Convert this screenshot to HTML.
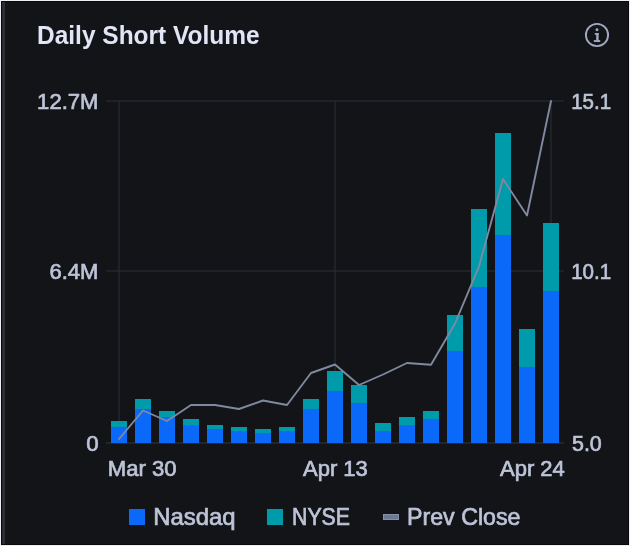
<!DOCTYPE html>
<html><head><meta charset="utf-8"><title>Daily Short Volume</title>
<style>
html,body{margin:0;padding:0;background:#131418;}
body{width:630px;height:546px;overflow:hidden;position:relative;font-family:"Liberation Sans",sans-serif;}
#frame{position:absolute;left:0;top:0;width:628px;height:544px;border:1px solid #efeded;box-sizing:content-box;}
#inner{position:absolute;left:1px;top:1px;width:626px;height:542px;border:1px solid #090a0f;background:#131418;}
#strip{position:absolute;left:2px;top:2px;width:3px;height:542px;background:linear-gradient(90deg,#1b1e27 0,#2c313d 1px,#2c313d 2px,#252934 3px);}
svg{position:absolute;left:0;top:0;}
text{font-family:"Liberation Sans",sans-serif;}
.ax{font-size:22.9px;fill:#bdc4d7;stroke:#bdc4d7;stroke-width:0.7px;}
.ttl{font-size:26.2px;font-weight:bold;fill:#e1e5f6;}
</style></head><body>
<div id="frame"></div><div id="inner"></div><div id="strip"></div>
<svg width="630" height="546" viewBox="0 0 630 546">
<text class="ttl" x="37" y="43.800" textLength="222.600" lengthAdjust="spacingAndGlyphs">Daily Short Volume</text>
<g fill="none" stroke="#a2a9c0">
<circle cx="597" cy="35" r="11.1" stroke-width="1.9"/>
</g>
<g fill="#a2a9c0">
<circle cx="597" cy="29.800" r="1.450"/>
<rect x="594.8" y="33" width="3.8" height="1.8"/>
<rect x="596.200" y="33" width="2.400" height="8"/>
<rect x="593.800" y="40.100" width="6.400" height="1.900"/>
</g>
<g stroke="#2a2e39" stroke-width="1">
<line x1="106" y1="101" x2="564" y2="101"/>
<line x1="106" y1="271" x2="564" y2="271"/>
<line x1="106" y1="443" x2="564" y2="443" stroke="#30343f"/>
<line x1="119" y1="101" x2="119" y2="443"/>
<line x1="335" y1="101" x2="335" y2="443"/>
<line x1="551" y1="101" x2="551" y2="443"/>
</g>
<g shape-rendering="crispEdges">
<rect x="111" y="421" width="16" height="6" fill="#009bab"/>
<rect x="111" y="427" width="16" height="16" fill="#0a69f8"/>
<rect x="135" y="399" width="16" height="10" fill="#009bab"/>
<rect x="135" y="409" width="16" height="34" fill="#0a69f8"/>
<rect x="159" y="411" width="16" height="6" fill="#009bab"/>
<rect x="159" y="417" width="16" height="26" fill="#0a69f8"/>
<rect x="183" y="419" width="16" height="6" fill="#009bab"/>
<rect x="183" y="425" width="16" height="18" fill="#0a69f8"/>
<rect x="207" y="425" width="16" height="4" fill="#009bab"/>
<rect x="207" y="429" width="16" height="14" fill="#0a69f8"/>
<rect x="231" y="427" width="16" height="4" fill="#009bab"/>
<rect x="231" y="431" width="16" height="12" fill="#0a69f8"/>
<rect x="255" y="429" width="16" height="4" fill="#009bab"/>
<rect x="255" y="433" width="16" height="10" fill="#0a69f8"/>
<rect x="279" y="427" width="16" height="4" fill="#009bab"/>
<rect x="279" y="431" width="16" height="12" fill="#0a69f8"/>
<rect x="303" y="399" width="16" height="10" fill="#009bab"/>
<rect x="303" y="409" width="16" height="34" fill="#0a69f8"/>
<rect x="327" y="371" width="16" height="20" fill="#009bab"/>
<rect x="327" y="391" width="16" height="52" fill="#0a69f8"/>
<rect x="351" y="385" width="16" height="18" fill="#009bab"/>
<rect x="351" y="403" width="16" height="40" fill="#0a69f8"/>
<rect x="375" y="423" width="16" height="8" fill="#009bab"/>
<rect x="375" y="431" width="16" height="12" fill="#0a69f8"/>
<rect x="399" y="417" width="16" height="8" fill="#009bab"/>
<rect x="399" y="425" width="16" height="18" fill="#0a69f8"/>
<rect x="423" y="411" width="16" height="8" fill="#009bab"/>
<rect x="423" y="419" width="16" height="24" fill="#0a69f8"/>
<rect x="447" y="315" width="16" height="36" fill="#009bab"/>
<rect x="447" y="351" width="16" height="92" fill="#0a69f8"/>
<rect x="471" y="209" width="16" height="78" fill="#009bab"/>
<rect x="471" y="287" width="16" height="156" fill="#0a69f8"/>
<rect x="495" y="133" width="16" height="101.5" fill="#009bab"/>
<rect x="495" y="234.5" width="16" height="208.5" fill="#0a69f8"/>
<rect x="519" y="328.8" width="16" height="38.19999999999999" fill="#009bab"/>
<rect x="519" y="367" width="16" height="76" fill="#0a69f8"/>
<rect x="543" y="223" width="16" height="68" fill="#009bab"/>
<rect x="543" y="291" width="16" height="152" fill="#0a69f8"/>
</g>
<polyline points="119,439 143,410.5 167,421 191,405 215,405 239,409 263,400.5 287,405 311,373 335,364.5 359,385 383,374.5 407,363 431,364.8 455,323.5 479,266.3 503,179 527,215.5 551,101" fill="none" stroke="#7f899f" stroke-width="1.9" stroke-linejoin="round" stroke-linecap="round"/>
<g class="ax">
<text x="98.500" y="109" text-anchor="end" textLength="61.400" lengthAdjust="spacingAndGlyphs">12.7M</text>
<text x="98.400" y="279" text-anchor="end" textLength="49" lengthAdjust="spacingAndGlyphs">6.4M</text>
<text x="98.700" y="451.200" text-anchor="end" textLength="12.400" lengthAdjust="spacingAndGlyphs">0</text>
<text x="571.200" y="109.200" textLength="40" lengthAdjust="spacingAndGlyphs">15.1</text>
<text x="571.200" y="279.200" textLength="40" lengthAdjust="spacingAndGlyphs">10.1</text>
<text x="572" y="451.200" textLength="29.800" lengthAdjust="spacingAndGlyphs">5.0</text>
<text x="107.800" y="476" textLength="68.800" lengthAdjust="spacingAndGlyphs">Mar 30</text>
<text x="303" y="476" textLength="64.800" lengthAdjust="spacingAndGlyphs">Apr 13</text>
<text x="500" y="476" textLength="64.800" lengthAdjust="spacingAndGlyphs">Apr 24</text>
</g>
<rect x="129" y="509" width="16" height="16" fill="#0a69f8"/>
<rect x="267" y="509" width="16" height="16" fill="#009bab"/>
<rect x="383" y="514" width="16" height="6" fill="#8590a6"/><rect x="384" y="515" width="14" height="4" fill="#6d7a93"/>
<g class="ax" style="font-size:24px">
<text x="153.200" y="525" textLength="82.300" lengthAdjust="spacingAndGlyphs">Nasdaq</text>
<text x="292" y="525" textLength="58" lengthAdjust="spacingAndGlyphs">NYSE</text>
<text x="407" y="525" textLength="113.500" lengthAdjust="spacingAndGlyphs">Prev Close</text>
</g>
</svg>
</body></html>
